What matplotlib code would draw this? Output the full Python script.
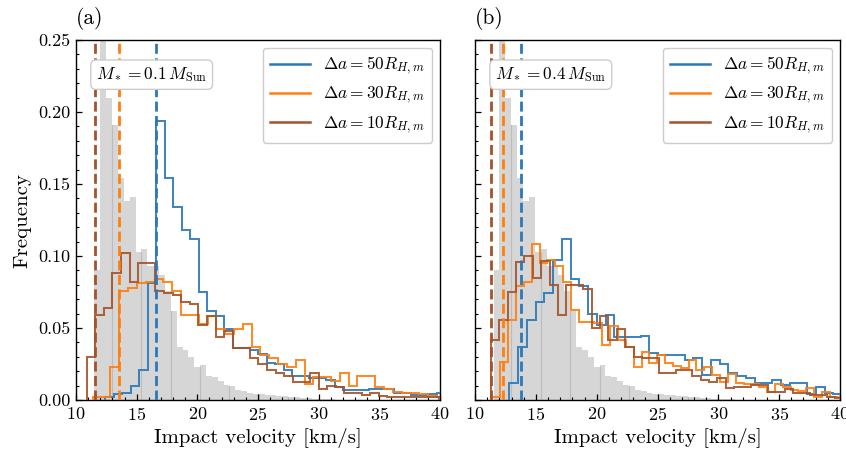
import numpy as np
import matplotlib
matplotlib.use("Agg")
import matplotlib.pyplot as plt
from matplotlib.lines import Line2D
from matplotlib.ticker import MultipleLocator, FormatStrFormatter

plt.rcParams.update({
    "font.family": "serif",
    "font.serif": ["cmr10"],
    "mathtext.fontset": "cm",
    "axes.unicode_minus": False,
    "axes.formatter.use_mathtext": True,
})

# ---------------- data ----------------
panel_labels = ["(a)", "(b)"]
stellar_masses = ["0.1", "0.4"]
series_labels = [r"$\Delta a = 50R_{H,m}$", r"$\Delta a = 30R_{H,m}$", r"$\Delta a = 10R_{H,m}$"]
series_colors = ["#2b78ba", "#ff7f0e", "#a4532a"]

# grey reference histogram (same in both panels)
gray_start = 11.52
gray_width = 0.484
gray_freq = [0.090, 0.27, 0.210, 0.191, 0.154, 0.138, 0.141, 0.103, 0.105, 0.093,
             0.093, 0.087, 0.076, 0.062, 0.037, 0.035, 0.030, 0.023, 0.0245, 0.017,
             0.0157, 0.013, 0.0104, 0.0095, 0.0069, 0.0065, 0.0046, 0.0045, 0.0039, 0.0037,
             0.0035, 0.003, 0.0025, 0.0022, 0.0018, 0.0015, 0.0012, 0.001, 0.0008, 0.0006,
             0.0005]

# panel (a): M* = 0.1 MSun
blue_a_start, blue_a_width = 12.42, 0.70
blue_a_freq = [0.002, 0.004, 0.005, 0.010, 0.021, 0.081, 0.194, 0.154, 0.134, 0.118,
               0.112, 0.075, 0.062, 0.058, 0.049, 0.036, 0.036, 0.035, 0.032, 0.026,
               0.025, 0.021, 0.017, 0.017, 0.0155, 0.0155, 0.014, 0.009, 0.007, 0.007,
               0.007, 0.0075, 0.0075, 0.0075, 0.0046, 0.0046, 0.0035, 0.0035, 0.004, 0.005]
orange_a_start, orange_a_width = 11.39, 0.727
orange_a_freq = [0.002, 0.002, 0.023, 0.076, 0.078, 0.081, 0.082, 0.084, 0.082, 0.076,
                 0.059, 0.059, 0.053, 0.058, 0.049, 0.046, 0.049, 0.053, 0.037, 0.031,
                 0.029, 0.025, 0.023, 0.028, 0.011, 0.016, 0.016, 0.0135, 0.019, 0.0095,
                 0.017, 0.017, 0.0093, 0.0074, 0.0058, 0.0046, 0.0046, 0.0042, 0.0025, 0.002]
brown_a_start, brown_a_width = 10.88, 0.708
brown_a_freq = [0.030, 0.059, 0.064, 0.088, 0.102, 0.082, 0.095, 0.095, 0.076, 0.074,
                0.073, 0.068, 0.067, 0.052, 0.058, 0.044, 0.048, 0.036, 0.036, 0.029,
                0.025, 0.021, 0.019, 0.017, 0.0127, 0.0127, 0.0185, 0.0074, 0.010, 0.0088,
                0.005, 0.005, 0.0035, 0.005, 0.0028, 0.002, 0.002, 0.002, 0.002, 0.002,
                0.002, 0.001]
vlines_a = [16.6, 13.57, 11.57]

# panel (b): M* = 0.4 MSun
blue_b_start, blue_b_width = 12.82, 0.72
blue_b_freq = [0.012, 0.037, 0.0556, 0.068, 0.074, 0.097, 0.112, 0.084, 0.079, 0.060,
               0.052, 0.059, 0.044, 0.044, 0.044, 0.0444, 0.0324, 0.031, 0.031, 0.031,
               0.028, 0.029, 0.0174, 0.0278, 0.025, 0.0185, 0.0167, 0.015, 0.012, 0.012,
               0.014, 0.0104, 0.012, 0.012, 0.004, 0.0093, 0.005, 0.004]
orange_b_start, orange_b_width = 11.43, 0.645
orange_b_freq = [0.0024, 0.0266, 0.0556, 0.079, 0.082, 0.108, 0.095, 0.097, 0.093, 0.082,
                 0.0625, 0.054, 0.054, 0.0532, 0.038, 0.0514, 0.042, 0.037, 0.0231, 0.0336,
                 0.0255, 0.0313, 0.0255, 0.0235, 0.022, 0.0278, 0.0208, 0.023, 0.0174, 0.0127,
                 0.018, 0.0116, 0.011, 0.011, 0.0088, 0.0058, 0.011, 0.009, 0.0069, 0.0065,
                 0.0081, 0.0023, 0.0058, 0.0023, 0.002]
brown_b_start, brown_b_width = 11.30, 0.69
brown_b_freq = [0.0417, 0.0556, 0.075, 0.096, 0.100, 0.085, 0.0963, 0.080, 0.059, 0.080,
                0.080, 0.077, 0.050, 0.058, 0.042, 0.049, 0.037, 0.030, 0.029, 0.029,
                0.0185, 0.0185, 0.0208, 0.0208, 0.017, 0.0139, 0.0127, 0.015, 0.0081, 0.0093,
                0.0093, 0.0104, 0.0104, 0.0058, 0.0058, 0.0074, 0.005, 0.005, 0.0035, 0.0035,
                0.0023, 0.0015]
vlines_b = [13.75, 12.3, 11.29]

panel_series = [
    [(blue_a_start, blue_a_width, blue_a_freq),
     (orange_a_start, orange_a_width, orange_a_freq),
     (brown_a_start, brown_a_width, brown_a_freq)],
    [(blue_b_start, blue_b_width, blue_b_freq),
     (orange_b_start, orange_b_width, orange_b_freq),
     (brown_b_start, brown_b_width, brown_b_freq)],
]
panel_vlines = [vlines_a, vlines_b]


def edges_of(start, width, freq):
    return start + width * np.arange(len(freq) + 1)


# ---------------- figure ----------------
fig = plt.figure(figsize=(8.46, 4.49), dpi=100)
axes = [fig.add_axes([0.0898, 0.1091, 0.4303, 0.8018]),
        fig.add_axes([0.5615, 0.1091, 0.4314, 0.8018])]

gray_edges = edges_of(gray_start, gray_width, gray_freq)
gray_arr = np.array(gray_freq)

for i, ax in enumerate(axes):
    ax.bar(gray_edges[:-1], gray_arr, width=gray_width, align="edge",
           color="#d6d6d6", linewidth=0, zorder=1)
    # faint seams every 5th bin in the grey histogram
    for j in range(3, len(gray_freq), 5):
        h = min(gray_arr[j - 1], gray_arr[j])
        ax.plot([gray_edges[j], gray_edges[j]], [0, h], color="#bcbcbc", lw=0.8, zorder=1.5)

    for (start, width, freq), color in zip(panel_series[i], series_colors):
        ax.stairs(freq, edges_of(start, width, freq), baseline=0, color=color,
                  lw=1.45, alpha=0.9, zorder=3)
    for xv, color in zip(panel_vlines[i], series_colors):
        ax.axvline(xv, color=color, lw=2.0, dashes=(3.6, 1.6), zorder=4)

    ax.set_xlim(10, 40)
    ax.set_ylim(0, 0.25)
    ax.xaxis.set_major_locator(MultipleLocator(5))
    ax.xaxis.set_minor_locator(MultipleLocator(1))
    ax.yaxis.set_major_locator(MultipleLocator(0.05))
    ax.yaxis.set_minor_locator(MultipleLocator(0.01))
    ax.yaxis.set_major_formatter(FormatStrFormatter("%.2f"))
    ax.tick_params(which="both", direction="in", labelsize=13, pad=4)
    ax.tick_params(which="major", length=4.5, width=0.9)
    ax.tick_params(which="minor", length=2.5, width=0.8)
    for sp in ax.spines.values():
        sp.set_linewidth(1.0)
    ax.set_xlabel("Impact velocity [km/s]", fontsize=15, labelpad=4)
    if i == 0:
        ax.set_ylabel("Frequency", fontsize=15, labelpad=5)
    else:
        ax.tick_params(axis="y", labelleft=False)

    ax.text(0.0, 1.028, panel_labels[i], transform=ax.transAxes, fontsize=15.5,
            ha="left", va="bottom")
    ax.text(0.055, 0.93, r"$M_* = %s\,M_{\rm Sun}$" % stellar_masses[i],
            transform=ax.transAxes, fontsize=12.5, ha="left", va="top",
            bbox=dict(boxstyle="round,pad=0.3", fc="white", ec="#cccccc", lw=1.0),
            zorder=6)

    handles = [Line2D([], [], color=c, lw=1.8) for c in series_colors]
    leg = ax.legend(handles, series_labels, loc="upper right", fontsize=12.5,
                    frameon=True, fancybox=True, framealpha=1.0, edgecolor="#cccccc",
                    handlelength=2.3, borderaxespad=0.45, labelspacing=0.45)
    leg.set_zorder(7)

fig.savefig("out.png", dpi=100)
